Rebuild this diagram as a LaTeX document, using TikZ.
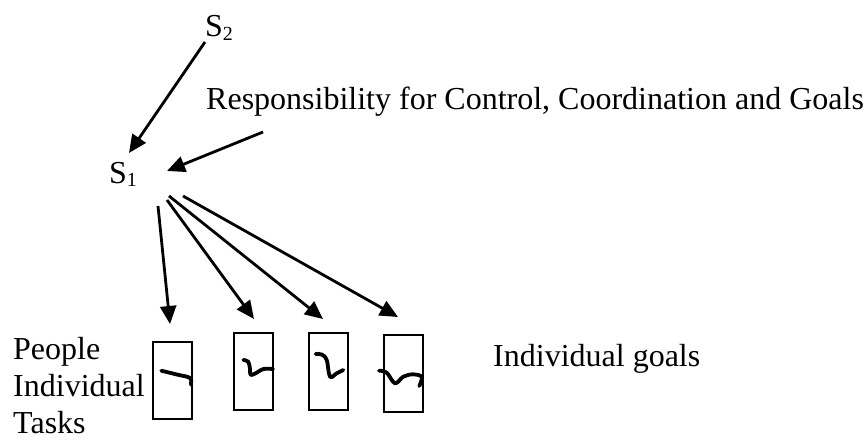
\documentclass[tikz,border=0pt]{standalone}
\usepackage{fontspec}
\setmainfont{Liberation Serif}
\usetikzlibrary{arrows.meta}
\newcommand{\mysub}[1]{\raisebox{-0.1em}{\fontsize{20}{20}\selectfont #1}}
\begin{document}
\begin{tikzpicture}[x=1pt,y=-1pt,
  lbl/.style={anchor=base west,inner sep=0pt,font=\fontsize{32}{37}\selectfont},
  arr/.style={line width=2.8pt,-{Triangle[length=18pt,width=16pt]}},
  taskbox/.style={draw,line width=2pt,minimum width=39pt,minimum height=77pt,inner sep=0pt},
  squig/.style={line width=3.8pt,line cap=round,line join=round}]
\useasboundingbox (0,0) rectangle (865,441);
% labels
\node[lbl] (s2) at (205,37) {S\mysub{2}};
\node[lbl] (s1) at (109,183) {S\mysub{1}};
\node[lbl] (resp) at (206,110) {Responsibility for Control, Coordination and Goals};
\node[lbl] (people) at (13,359) {People};
\node[lbl] (indiv) at (13,396) {Individual};
\node[lbl] (tasks) at (13,433) {Tasks};
\node[lbl] (goals) at (493,366) {Individual goals};
% boxes
\node[taskbox] (b1) at (172,380) {};
\node[taskbox] (b2) at (253.5,371.5) {};
\node[taskbox] (b3) at (328,371.5) {};
\node[taskbox] (b4) at (403.5,373.5) {};
% connector ends
\coordinate (s2out) at (205,42);
\coordinate (s1in) at (129,153);
\coordinate (respout) at (263,132);
\coordinate (s1in2) at (167,171);
\coordinate (f1) at (158,206);
\coordinate (f2) at (167,200);
\coordinate (f3) at (169,196);
\coordinate (f4) at (183,196);
\coordinate (t1) at (170,324);
\coordinate (t2) at (254,319);
\coordinate (t3) at (323,319);
\coordinate (t4) at (398,317);
% arrows
\draw[arr] (s2out) -- (s1in);
\draw[arr] (respout) -- (s1in2);
\draw[arr] (f1) -- (t1);
\draw[arr] (f2) -- (t2);
\draw[arr] (f3) -- (t3);
\draw[arr] (f4) -- (t4);
% squiggles
\draw[squig] plot[smooth,tension=0.6] coordinates {(161.3,370.7) (176.7,374.5) (190,378) (190.7,384.5)};
\draw[squig] plot[smooth,tension=0.6] coordinates {(243.3,360) (248.3,361.7) (250,369) (250.7,375) (256.7,372.7) (263.3,369) (273,369)};
\draw[squig] plot[smooth,tension=0.6] coordinates {(315.7,354) (321.7,354.5) (326.7,360) (330,376.7) (336.7,373.3) (343.3,370)};
\draw[squig] plot[smooth,tension=0.6] coordinates {(379,370.7) (386.7,372.7) (395,383.3) (403.3,376.7) (413.3,374.3) (421.7,377) (419.3,386)};
\end{tikzpicture}
\end{document}
